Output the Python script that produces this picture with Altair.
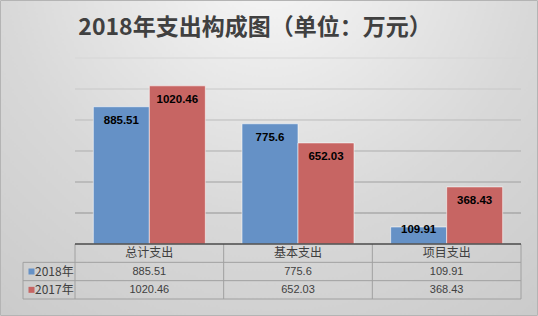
import altair as alt
import pandas as pd

# ---------------- data ----------------
cats = ["总计支出", "基本支出", "项目支出"]
series = ["2018年", "2017年"]
v2018 = [885.51, 775.6, 109.91]
v2017 = [1020.46, 652.03, 368.43]
grid_ticks = [200, 400, 600, 800, 1000, 1200]
title_text = "2018年支出构成图（单位：万元）"
colors = ["#6591C6", "#C76563"]

# ---------------- layout ----------------
W, H = 538, 316
X_RANGE = [75, 521]
Y_RANGE = [244, 58]
T_RANGE = [244, 299]
Y_MAX = 1200
n = len(cats)
STEP = (X_RANGE[1] - X_RANGE[0]) / n
BAR_W = 56 / STEP
LEG_W = 52 / STEP
PAD_U = 14 * Y_MAX / (Y_RANGE[0] - Y_RANGE[1])

CJK = "Noto Sans CJK SC"
NUM = "Liberation Sans"

rows = []
for i, c in enumerate(cats):
    for j, (s, vals) in enumerate(zip(series, [v2018, v2017])):
        v = vals[i]
        x0 = i + 0.5 - BAR_W if j == 0 else i + 0.5
        rows.append(dict(cat=c, series=s, value=v, label=str(v), x0=x0, x1=x0 + BAR_W,
                         tx=x0 + BAR_W / 2, ly=max(v - PAD_U, PAD_U),
                         cx=i + 0.5, row=j + 1.5))
df = pd.DataFrame(rows)
hdr = pd.DataFrame({"cat": cats, "cx": [i + 0.5 for i in range(n)], "row": [0.5] * n})
leg = pd.DataFrame({"series": series, "row": [1.5, 2.5]})
grid = pd.DataFrame({"v": grid_ticks, "a": [0] * len(grid_ticks), "b": [n] * len(grid_ticks)})

# table segments
seg_gray = []
for r in [1, 2, 3]:
    seg_gray.append(dict(x=-LEG_W, x2=n, y=r, y2=r))
for k in range(n + 1):
    seg_gray.append(dict(x=k, x2=k, y=0, y2=3))
seg_gray.append(dict(x=-LEG_W, x2=-LEG_W, y=1, y2=3))
seg_gray = pd.DataFrame(seg_gray)
seg_top = pd.DataFrame([dict(x=0, x2=n, y=0, y2=0)])

xs = alt.Scale(domain=[0, n], range=X_RANGE, nice=False, zero=False)
ys = alt.Scale(domain=[0, Y_MAX], range=Y_RANGE, nice=False, zero=False)
ts = alt.Scale(domain=[0, 3], range=T_RANGE, nice=False, zero=False)
cs = alt.Scale(domain=series, range=colors)

grad = alt.RadialGradient(
    gradient="radial",
    stops=[alt.GradientStop(color="#f8f8f8", offset=0),
           alt.GradientStop(color="#d8d8d8", offset=0.5),
           alt.GradientStop(color="#c4c4c4", offset=1)],
    x1=0.5, y1=0.12, x2=0.5, y2=0.12, r1=0, r2=1.0,
)

bg = alt.Chart(pd.DataFrame({"a": [0]})).mark_rect(fill=grad, stroke="#b4b4b4", strokeWidth=1).encode(
    x=alt.value(0.5), x2=alt.value(W - 0.5), y=alt.value(0.5), y2=alt.value(H - 0.5))

title = alt.Chart(pd.DataFrame({"t": [title_text]})).mark_text(
    font=CJK, fontSize=23, fontWeight="bold", color="#404040", align="center", baseline="alphabetic"
).encode(x=alt.value(255), y=alt.value(35), text="t:N")

gridl = alt.Chart(grid).mark_rule(strokeWidth=1).encode(
    x=alt.X("a:Q", scale=xs, axis=None), x2="b:Q",
    y=alt.Y("v:Q", scale=ys, axis=None),
    color=alt.Color("v:Q", scale=alt.Scale(domain=[200, 1200], range=["#939393", "#d6d6d6"]), legend=None))

bars = alt.Chart(df).mark_rect(stroke="#ffffff", strokeOpacity=0.55, strokeWidth=1).encode(
    x=alt.X("x0:Q", scale=xs, axis=None), x2="x1:Q",
    y=alt.Y("value:Q", scale=ys, axis=None), y2=alt.datum(0),
    color=alt.Color("series:N", scale=cs, legend=None))

blabels = alt.Chart(df).mark_text(font=NUM, fontSize=11.5, fontWeight="bold", color="#000000",
                                  baseline="middle", align="center").encode(
    x=alt.X("tx:Q", scale=xs, axis=None), y=alt.Y("ly:Q", scale=ys, axis=None), text="label:N")

tgray = alt.Chart(seg_gray).mark_rule(color="#a0a0a0", strokeWidth=1).encode(
    x=alt.X("x:Q", scale=xs, axis=None), x2="x2:Q",
    y=alt.Y("y:Q", scale=ts, axis=None), y2="y2:Q")

ttop = alt.Chart(seg_top).mark_rule(color="#4a4a4a", strokeWidth=1.5).encode(
    x=alt.X("x:Q", scale=xs, axis=None), x2="x2:Q",
    y=alt.Y("y:Q", scale=ts, axis=None), y2="y2:Q")

thdr = alt.Chart(hdr).mark_text(font=CJK, fontSize=12, color="#404040", baseline="middle").encode(
    x=alt.X("cx:Q", scale=xs, axis=None), y=alt.Y("row:Q", scale=ts, axis=None), text="cat:N")

tval = alt.Chart(df).mark_text(font=NUM, fontSize=11, color="#404040", baseline="middle").encode(
    x=alt.X("cx:Q", scale=xs, axis=None), y=alt.Y("row:Q", scale=ts, axis=None), text="label:N")

lsq = alt.Chart(leg).mark_square(size=36, opacity=1, xOffset=8.5).encode(
    x=alt.X("lx:Q", scale=xs, axis=None), y=alt.Y("row:Q", scale=ts, axis=None),
    color=alt.Color("series:N", scale=cs, legend=None)).transform_calculate(lx=str(-LEG_W))

ltxt = alt.Chart(leg).mark_text(font=CJK, fontSize=12, color="#404040", baseline="middle",
                                align="left", dx=12).encode(
    x=alt.X("lx:Q", scale=xs, axis=None), y=alt.Y("row:Q", scale=ts, axis=None),
    text="series:N").transform_calculate(lx=str(-LEG_W))

chart = alt.layer(bg, title, gridl, bars, blabels, tgray, ttop, thdr, tval, lsq, ltxt).resolve_scale(
    y="independent", color="independent"
).properties(width=W, height=H, padding=0, autosize=alt.AutoSizeParams(type="none")
).configure_view(stroke=None)

chart.save("out.html", embed_options={"renderer": "svg", "actions": False})
